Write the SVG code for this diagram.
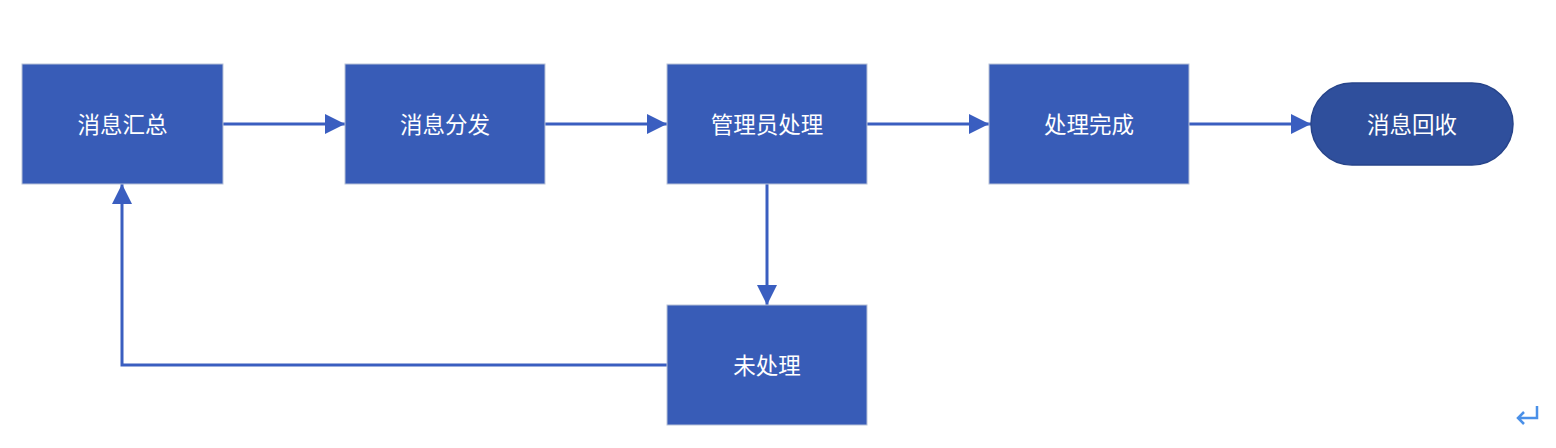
<svg xmlns="http://www.w3.org/2000/svg" width="1556" height="448" viewBox="0 0 1556 448">
<defs>
<style>
.box{fill:#385cb7;stroke:#b8c2d8;stroke-width:1}
.term{fill:#2f4f9c;stroke:#27448a;stroke-width:1.5}
.lbl{fill:#ffffff;font-family:"Noto Sans CJK SC","Microsoft YaHei",sans-serif;font-size:22.5px;text-anchor:middle;dominant-baseline:central}
.con{fill:none;stroke:#3a5ec0;stroke-width:3}
</style>
<marker id="ah" markerWidth="20" markerHeight="20" viewBox="0 0 20 20" refX="20" refY="10" orient="auto" markerUnits="userSpaceOnUse">
<path d="M0,0 L20,10 L0,20 Z" fill="#3a5ec0"/>
</marker>
</defs>
<rect width="1556" height="448" fill="#ffffff"/>
<g id="connectors">
<line class="con" x1="223" y1="124" x2="345" y2="124" marker-end="url(#ah)"/>
<line class="con" x1="545" y1="124" x2="667" y2="124" marker-end="url(#ah)"/>
<line class="con" x1="867" y1="124" x2="989" y2="124" marker-end="url(#ah)"/>
<line class="con" x1="1189" y1="124" x2="1311" y2="124" marker-end="url(#ah)"/>
<line class="con" x1="767" y1="184" x2="767" y2="305" marker-end="url(#ah)"/>
<polyline class="con" points="667,365 122,365 122,184" marker-end="url(#ah)"/>
</g>
<g id="n1"><rect class="box" x="22" y="64" width="201" height="120"/><text class="lbl" x="122.5" y="123">消息汇总</text></g>
<g id="n2"><rect class="box" x="345" y="64" width="200" height="120"/><text class="lbl" x="445" y="123">消息分发</text></g>
<g id="n3"><rect class="box" x="667" y="64" width="200" height="120"/><text class="lbl" x="767" y="123">管理员处理</text></g>
<g id="n4"><rect class="box" x="989" y="64" width="200" height="120"/><text class="lbl" x="1089" y="123">处理完成</text></g>
<g id="n5"><rect class="term" x="1311" y="83" width="202" height="82" rx="41" ry="41"/><text class="lbl" x="1412" y="123">消息回收</text></g>
<g id="n6"><rect class="box" x="667" y="305" width="200" height="120"/><text class="lbl" x="767" y="364">未处理</text></g>
<g id="mark"><path d="M1537,406 V418 H1518 M1524,412 L1518,418 L1524,424" fill="none" stroke="#4a90e8" stroke-width="2.5"/></g>
</svg>
